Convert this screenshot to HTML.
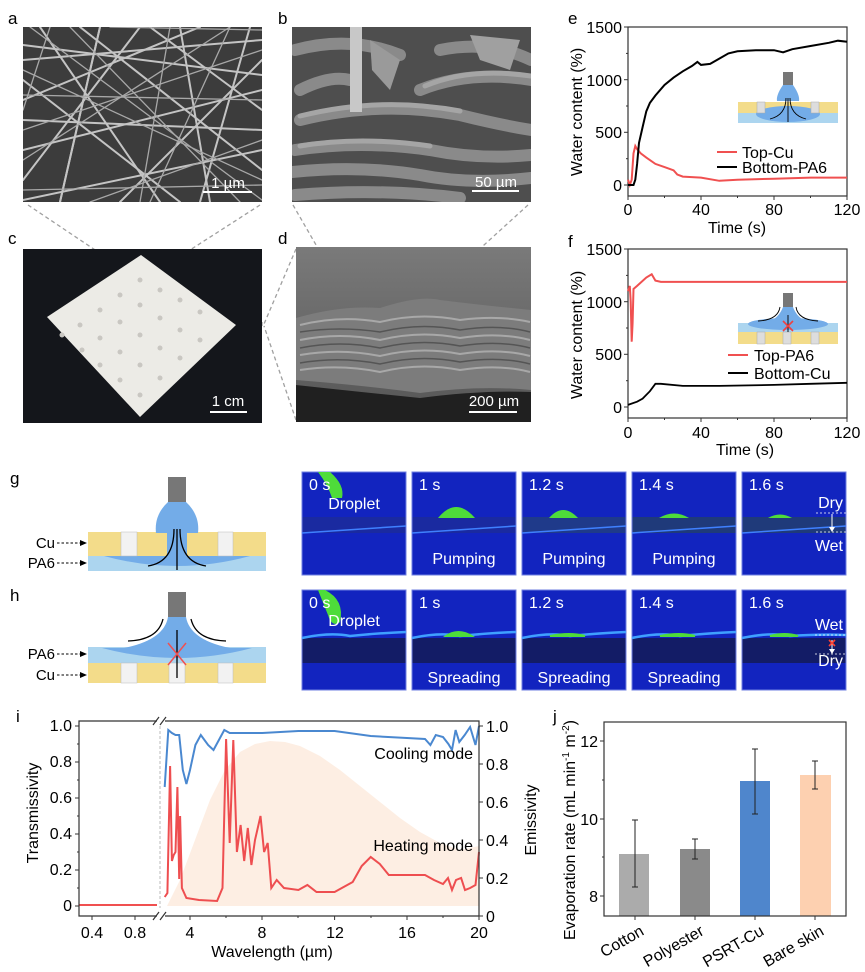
<!DOCTYPE html>
<html><head><meta charset="utf-8"><style>
html,body{margin:0;padding:0;background:#fff;}
svg{display:block;font-family:"Liberation Sans",Arial,sans-serif;}
</style></head><body>
<svg width="865" height="972" viewBox="0 0 865 972" xmlns="http://www.w3.org/2000/svg">
<defs>
<clipPath id="ca"><rect x="23" y="27" width="239" height="175"/></clipPath>
<clipPath id="cb"><rect x="292" y="27" width="239" height="175"/></clipPath>
<clipPath id="cd"><rect x="296" y="247" width="235" height="175"/></clipPath>
<linearGradient id="gd" x1="0" y1="0" x2="0" y2="1"><stop offset="0" stop-color="#7a7a7a"/><stop offset="1" stop-color="#555"/></linearGradient>
</defs>

<g font-size="17" fill="#000">
<text x="8" y="24">a</text><text x="278" y="24">b</text>
<text x="8" y="244">c</text><text x="278" y="244">d</text>
<text x="568" y="24">e</text><text x="568" y="247">f</text>
<text x="10" y="484">g</text><text x="10" y="601">h</text>
<text x="16" y="722">i</text><text x="553" y="722">j</text>
</g>

<rect x="23" y="27" width="239" height="175" fill="#3c3c3c"/>
<g clip-path="url(#ca)" stroke="#c4c4c4" fill="none" stroke-linecap="round">
<g stroke-width="2">
<path d="M23 60 L262 40"/><path d="M23 100 L200 27"/><path d="M40 27 L160 202"/><path d="M23 150 L262 90"/>
<path d="M80 27 L262 170"/><path d="M23 180 L140 27"/><path d="M120 202 L262 60"/><path d="M180 27 L210 202"/>
<path d="M23 120 L262 130"/><path d="M60 202 L100 27"/><path d="M23 80 L180 202"/><path d="M150 27 L262 110"/>
<path d="M23 45 L262 75"/><path d="M200 202 L250 27"/><path d="M23 200 L262 150"/><path d="M100 27 L60 202"/>
</g>
<g stroke-width="1.3" stroke="#a8a8a8">
<path d="M23 70 L262 180"/><path d="M30 27 L262 200"/><path d="M23 160 L230 27"/><path d="M140 202 L170 27"/>
<path d="M23 130 L262 50"/><path d="M70 27 L240 202"/><path d="M23 95 L262 100"/><path d="M90 202 L262 140"/>
<path d="M230 27 L150 202"/><path d="M23 190 L262 185"/><path d="M50 27 L23 110"/><path d="M110 27 L262 30"/>
</g>
</g>
<line x1="203" y1="192" x2="252" y2="192" stroke="#fff" stroke-width="2"/>
<text x="228" y="188" font-size="15" fill="#fff" text-anchor="middle">1 µm</text>

<rect x="292" y="27" width="239" height="175" fill="#4e4e4e"/>
<g clip-path="url(#cb)" fill="none" stroke-linecap="round">
<g stroke="#8a8a8a" stroke-width="12">
<path d="M295 50 Q350 35 400 55"/><path d="M420 90 Q470 70 531 80"/><path d="M300 120 Q380 100 460 115 Q500 125 531 130"/>
<path d="M295 150 Q360 140 430 150 Q480 160 531 155"/><path d="M292 172 Q360 165 420 175 Q470 185 531 178"/>
<path d="M295 195 Q380 188 460 198"/><path d="M440 50 Q490 40 531 60"/><path d="M300 90 Q330 75 350 80"/>
</g>
<g stroke="#a5a5a5" stroke-width="5">
<path d="M300 116 Q380 96 460 111"/><path d="M300 146 Q360 136 430 146"/><path d="M425 86 Q470 67 531 76"/>
</g>
<rect x="350" y="27" width="12" height="85" fill="#c8c8c8" stroke="none"/>
<path d="M370 40 L400 60 L390 90 L372 70 Z" fill="#9a9a9a" stroke="none"/>
<path d="M470 35 L520 40 L510 70 L480 60 Z" fill="#a0a0a0" stroke="none"/>
</g>
<line x1="472" y1="191" x2="519" y2="191" stroke="#fff" stroke-width="2"/>
<text x="496" y="187" font-size="15" fill="#fff" text-anchor="middle">50 µm</text>

<g stroke="#a0a0a0" stroke-width="1.3" stroke-dasharray="4,3" fill="none">
<path d="M28 205 L122 268"/><path d="M260 205 L162 268"/>
<path d="M293 205 L342 290"/><path d="M528 205 L440 285"/>
<path d="M296 249 L264 324"/><path d="M296 420 L264 326"/>
<rect x="215" y="320" width="47" height="7"/>
<path d="M345 366 L398 366"/>
</g>

<rect x="23" y="249" width="239" height="174" fill="#14161b"/>
<path d="M141 255 L236 325 L140 417 L47 317 Z" fill="#ecebe6"/>
<g fill="#c9c7c2">
<circle cx="140" cy="280" r="2.5"/><circle cx="160" cy="290" r="2.5"/><circle cx="120" cy="295" r="2.5"/><circle cx="180" cy="300" r="2.5"/>
<circle cx="140" cy="305" r="2.5"/><circle cx="100" cy="310" r="2.5"/><circle cx="200" cy="312" r="2.5"/><circle cx="160" cy="318" r="2.5"/>
<circle cx="120" cy="322" r="2.5"/><circle cx="80" cy="325" r="2.5"/><circle cx="180" cy="330" r="2.5"/><circle cx="140" cy="335" r="2.5"/>
<circle cx="100" cy="338" r="2.5"/><circle cx="62" cy="335" r="2.5"/><circle cx="200" cy="340" r="2.5"/><circle cx="160" cy="348" r="2.5"/>
<circle cx="120" cy="352" r="2.5"/><circle cx="82" cy="350" r="2.5"/><circle cx="180" cy="358" r="2.5"/><circle cx="140" cy="365" r="2.5"/>
<circle cx="100" cy="365" r="2.5"/><circle cx="160" cy="378" r="2.5"/><circle cx="120" cy="380" r="2.5"/><circle cx="140" cy="395" r="2.5"/>
</g>
<line x1="210" y1="412" x2="247" y2="412" stroke="#fff" stroke-width="2"/>
<text x="228" y="406" font-size="15" fill="#fff" text-anchor="middle">1 cm</text>

<rect x="296" y="247" width="235" height="175" fill="url(#gd)"/>
<g clip-path="url(#cd)">
<path d="M296 318 Q340 305 380 308 Q420 295 440 300 Q480 305 531 310 L531 390 Q480 385 420 393 Q360 385 296 380 Z" fill="#7c7c7c"/>
<g stroke="#a8a8a8" stroke-width="2" fill="none">
<path d="M300 325 Q340 315 380 322 Q420 312 460 320 Q500 315 530 322"/>
<path d="M300 340 Q340 332 380 340 Q420 330 460 338 Q500 332 530 340"/>
<path d="M300 355 Q340 348 380 356 Q420 346 460 354 Q500 348 530 356"/>
<path d="M300 370 Q340 364 380 372 Q420 362 460 370 Q500 364 530 372"/>
</g>
<g stroke="#555" stroke-width="1.5" fill="none">
<path d="M300 332 Q340 326 380 332 Q420 322 460 330 Q500 324 530 332"/>
<path d="M300 348 Q340 340 380 348 Q420 338 460 346 Q500 340 530 348"/>
<path d="M300 363 Q340 356 380 364 Q420 354 460 362 Q500 356 530 364"/>
</g>
<path d="M296 385 Q360 392 420 398 Q480 390 531 392 L531 422 L296 422 Z" fill="#202020"/>
</g>
<line x1="469" y1="412" x2="517" y2="412" stroke="#fff" stroke-width="2"/>
<text x="494" y="406" font-size="15" fill="#fff" text-anchor="middle">200 µm</text>

<g font-size="16" fill="#000">
<rect x="628" y="27" width="219" height="169" fill="none" stroke="#333" stroke-width="1.2"/>
<g stroke="#333" stroke-width="1">
<line x1="624" y1="185" x2="628" y2="185"/><line x1="624" y1="132.3" x2="628" y2="132.3"/><line x1="624" y1="79.7" x2="628" y2="79.7"/><line x1="624" y1="27" x2="628" y2="27"/>
<line x1="626" y1="158.7" x2="628" y2="158.7"/><line x1="626" y1="106" x2="628" y2="106"/><line x1="626" y1="53.4" x2="628" y2="53.4"/>
<line x1="628" y1="196" x2="628" y2="200"/><line x1="701" y1="196" x2="701" y2="200"/><line x1="774" y1="196" x2="774" y2="200"/><line x1="847" y1="196" x2="847" y2="200"/>
<line x1="664.5" y1="196" x2="664.5" y2="198"/><line x1="737.5" y1="196" x2="737.5" y2="198"/><line x1="810.5" y1="196" x2="810.5" y2="198"/>
</g>
<g text-anchor="end"><text x="622" y="191">0</text><text x="622" y="138">500</text><text x="622" y="86">1000</text><text x="622" y="33">1500</text></g>
<g text-anchor="middle"><text x="628" y="215">0</text><text x="701" y="215">40</text><text x="774" y="215">80</text><text x="847" y="215">120</text>
<text x="737" y="233">Time (s)</text></g>
<text transform="translate(582,112) rotate(-90)" text-anchor="middle">Water content (%)</text>
<polyline fill="none" stroke="#f05050" stroke-width="2" points="628,179.7 629.8,185 631.7,179.7 633.5,153.4 635.3,146 637.1,149.2 640.8,153.4 646.3,157.6 655.4,163.9 664.5,167.1 673.6,170.3 677.3,174.5 682.8,176.6 701,177.6 719.3,180.8 737.5,179.7 774,178.7 810.5,177.6 847,177.6"/>
<polyline fill="none" stroke="#000" stroke-width="2" points="628,185 633.5,185 635.3,179.7 637.1,164 639,142.9 642.6,127.1 646.3,111.3 649.9,102.9 655.4,95.5 664.5,85 673.6,77.6 682.8,71.3 691.9,66 697.4,61.9 701,64.9 710.1,63.9 719.3,58.6 728.4,53.4 737.5,51.3 755.8,50.2 774,50.2 783.1,52.3 792.3,49.2 810.5,46 828.8,42.8 837.9,40.7 847,41.8"/>
<rect x="738" y="102" width="100" height="11" fill="#f3dc8a"/>
<rect x="738" y="113" width="100" height="10" fill="#acd5ef"/>
<ellipse cx="788" cy="114" rx="32" ry="8" fill="#73ace8"/>
<rect x="757" y="102" width="8" height="11" fill="#ddd" stroke="#aaa" stroke-width="0.5"/>
<rect x="811" y="102" width="8" height="11" fill="#ddd" stroke="#aaa" stroke-width="0.5"/>
<rect x="783" y="72" width="10" height="13" fill="#777"/>
<path d="M783 85 L793 85 Q800 95 799 101 L777 101 Q776 95 783 85 Z" fill="#73ace8"/>
<g stroke="#000" stroke-width="0.9" fill="none"><path d="M786 98 Q786 115 770 119"/><path d="M790 98 Q790 115 806 119"/><path d="M788 98 L788 122"/></g>
<line x1="717" y1="152" x2="737" y2="152" stroke="#f05050" stroke-width="2"/>
<text x="742" y="158">Top-Cu</text>
<line x1="717" y1="167" x2="737" y2="167" stroke="#000" stroke-width="2"/>
<text x="742" y="173">Bottom-PA6</text>
</g>

<g font-size="16" fill="#000">
<rect x="628" y="249" width="219" height="169" fill="none" stroke="#333" stroke-width="1.2"/>
<g stroke="#333" stroke-width="1">
<line x1="624" y1="407" x2="628" y2="407"/><line x1="624" y1="354.3" x2="628" y2="354.3"/><line x1="624" y1="301.7" x2="628" y2="301.7"/><line x1="624" y1="249" x2="628" y2="249"/>
<line x1="626" y1="380.7" x2="628" y2="380.7"/><line x1="626" y1="328" x2="628" y2="328"/><line x1="626" y1="275.4" x2="628" y2="275.4"/>
<line x1="628" y1="418" x2="628" y2="422"/><line x1="701" y1="418" x2="701" y2="422"/><line x1="774" y1="418" x2="774" y2="422"/><line x1="847" y1="418" x2="847" y2="422"/>
<line x1="664.5" y1="418" x2="664.5" y2="420"/><line x1="737.5" y1="418" x2="737.5" y2="420"/><line x1="810.5" y1="418" x2="810.5" y2="420"/>
</g>
<g text-anchor="end"><text x="622" y="413">0</text><text x="622" y="360">500</text><text x="622" y="308">1000</text><text x="622" y="255">1500</text></g>
<g text-anchor="middle"><text x="628" y="438">0</text><text x="701" y="438">40</text><text x="774" y="438">80</text><text x="847" y="438">120</text>
<text x="745" y="455">Time (s)</text></g>
<text transform="translate(582,335) rotate(-90)" text-anchor="middle">Water content (%)</text>
<polyline fill="none" stroke="#f05050" stroke-width="2" points="628,291.2 629.8,285.9 630.7,301.7 631.7,341.7 632.6,322.8 633.5,289 637.1,285.9 646.3,277.5 651.7,274.3 655.4,280.6 660.9,281.9 701,281.9 847,281.9"/>
<polyline fill="none" stroke="#000" stroke-width="1.8" points="628,404.9 637.1,401.7 642.6,398.6 649.9,391.2 655.4,383.8 660.9,383.8 682.8,385.9 719.3,385.9 774,384.9 810.5,383.8 847,382.8"/>
<rect x="738" y="323" width="100" height="9" fill="#acd5ef"/>
<rect x="738" y="332" width="100" height="12" fill="#f3dc8a"/>
<ellipse cx="788" cy="324" rx="40" ry="6" fill="#73ace8"/>
<rect x="757" y="332" width="8" height="12" fill="#ddd" stroke="#aaa" stroke-width="0.5"/>
<rect x="783" y="332" width="8" height="12" fill="#ddd" stroke="#aaa" stroke-width="0.5"/>
<rect x="811" y="332" width="8" height="12" fill="#ddd" stroke="#aaa" stroke-width="0.5"/>
<rect x="783" y="293" width="10" height="14" fill="#777"/>
<path d="M783 307 L793 307 Q797 318 808 322 L768 322 Q779 318 783 307 Z" fill="#73ace8"/>
<g stroke="#000" stroke-width="0.9" fill="none"><path d="M780 307 Q778 320 758 321"/><path d="M796 307 Q798 320 818 321"/><line x1="788" y1="315" x2="788" y2="332"/></g>
<g stroke="#f04040" stroke-width="1.6"><line x1="783" y1="321" x2="793" y2="331"/><line x1="793" y1="321" x2="783" y2="331"/></g>
<line x1="728" y1="355" x2="748" y2="355" stroke="#f05050" stroke-width="2"/>
<text x="754" y="361">Top-PA6</text>
<line x1="728" y1="373" x2="748" y2="373" stroke="#000" stroke-width="2"/>
<text x="754" y="379">Bottom-Cu</text>
</g>

<g font-size="15" fill="#000">
<rect x="88" y="532" width="178" height="24" fill="#f3dc8a"/>
<rect x="88" y="556" width="178" height="15" fill="#acd5ef"/>
<path d="M104 556 Q177 576 250 556 Z" fill="#73ace8"/>
<rect x="121" y="532" width="16" height="24" fill="#f2f2f2" stroke="#bbb" stroke-width="0.5"/>
<rect x="218" y="532" width="15" height="24" fill="#f2f2f2" stroke="#bbb" stroke-width="0.5"/>
<rect x="167" y="532" width="20" height="24" fill="#73ace8"/>
<rect x="168" y="477" width="18" height="25" fill="#777"/>
<path d="M168 502 L186 502 Q200 515 198 533 L156 533 Q154 515 168 502 Z" fill="#73ace8"/>
<g stroke="#000" stroke-width="1.3" fill="none">
<path d="M174 529 Q174 562 148 566"/><path d="M180 529 Q180 562 206 566"/><line x1="177" y1="529" x2="177" y2="570"/>
</g>
<text x="55" y="548" text-anchor="end">Cu</text><text x="55" y="568" text-anchor="end">PA6</text>
<g stroke="#000" stroke-width="1" stroke-dasharray="2.5,2"><line x1="57" y1="543" x2="81" y2="543"/><line x1="57" y1="563" x2="81" y2="563"/></g>
<path d="M80 540 L87 543 L80 546 Z M80 560 L87 563 L80 566 Z"/>
</g>

<g font-size="15" fill="#000">
<rect x="88" y="647" width="178" height="16" fill="#acd5ef"/>
<rect x="88" y="663" width="178" height="20" fill="#f3dc8a"/>
<path d="M102 648 Q177 668 252 648 Z" fill="#73ace8"/>
<rect x="121" y="663" width="16" height="20" fill="#f2f2f2" stroke="#bbb" stroke-width="0.5"/>
<rect x="169" y="663" width="16" height="20" fill="#f2f2f2" stroke="#bbb" stroke-width="0.5"/>
<rect x="218" y="663" width="15" height="20" fill="#f2f2f2" stroke="#bbb" stroke-width="0.5"/>
<rect x="168" y="592" width="18" height="25" fill="#777"/>
<path d="M168 617 L186 617 Q190 640 230 648 L124 648 Q164 640 168 617 Z" fill="#73ace8"/>
<g stroke="#000" stroke-width="1.3" fill="none">
<path d="M163 619 Q158 640 128 641"/><path d="M191 619 Q196 640 226 641"/><line x1="177" y1="630" x2="177" y2="678"/>
</g>
<g stroke="#f05050" stroke-width="1.5"><line x1="168" y1="643" x2="186" y2="665"/><line x1="186" y1="643" x2="168" y2="665"/></g>
<text x="55" y="659" text-anchor="end">PA6</text><text x="55" y="680" text-anchor="end">Cu</text>
<g stroke="#000" stroke-width="1" stroke-dasharray="2.5,2"><line x1="57" y1="654" x2="81" y2="654"/><line x1="57" y1="675" x2="81" y2="675"/></g>
<path d="M80 651 L87 654 L80 657 Z M80 672 L87 675 L80 678 Z"/>
</g>

<g font-size="16" fill="#fff">
<g>
<rect x="302" y="472" width="104" height="103" fill="#1224bf" stroke="#6f7fe0" stroke-width="1"/>
<rect x="302.5" y="517" width="103" height="16" fill="#1a2aa0"/>
<path d="M302 533 Q350 530 406 526" stroke="#3f80ff" stroke-width="1.5" fill="none"/>
<path d="M330 472 Q345 485 342 498 L332 498 Q328 485 318 472 Z" fill="#4edc3a"/>
<text x="309" y="490">0 s</text><text x="354" y="509" text-anchor="middle">Droplet</text>
</g>
<g>
<rect x="412" y="472" width="104" height="103" fill="#1224bf" stroke="#6f7fe0" stroke-width="1"/>
<rect x="412.5" y="517" width="103" height="16" fill="#1a2aa0"/>
<path d="M412 533 Q460 530 516 526" stroke="#3f80ff" stroke-width="1.5" fill="none"/>
<path d="M438 518 Q456 496 475 518 Z" fill="#4edc3a"/>
<text x="419" y="490">1 s</text><text x="464" y="564" text-anchor="middle">Pumping</text>
</g>
<g>
<rect x="522" y="472" width="104" height="103" fill="#1224bf" stroke="#6f7fe0" stroke-width="1"/>
<rect x="522.5" y="517" width="103" height="16" fill="#1f3a8a"/>
<path d="M522 533 Q570 530 626 526" stroke="#3f80ff" stroke-width="1.5" fill="none"/>
<path d="M549 518 Q563 502 578 518 Z" fill="#4edc3a"/>
<text x="529" y="490">1.2 s</text><text x="574" y="564" text-anchor="middle">Pumping</text>
</g>
<g>
<rect x="632" y="472" width="104" height="103" fill="#1224bf" stroke="#6f7fe0" stroke-width="1"/>
<rect x="632.5" y="517" width="103" height="16" fill="#1f3a7a"/>
<path d="M632 533 Q680 530 736 526" stroke="#3f80ff" stroke-width="1.5" fill="none"/>
<path d="M659 518 Q674 509 689 518 Z" fill="#4edc3a"/>
<text x="639" y="490">1.4 s</text><text x="684" y="564" text-anchor="middle">Pumping</text>
</g>
<g>
<rect x="742" y="472" width="104" height="103" fill="#1224bf" stroke="#6f7fe0" stroke-width="1"/>
<rect x="742.5" y="517" width="103" height="16" fill="#1f3a7a"/>
<path d="M742 533 Q790 530 846 526" stroke="#3f80ff" stroke-width="1.5" fill="none"/>
<path d="M768 518 Q780 511 792 518 Z" fill="#4edc3a"/>
<text x="749" y="490">1.6 s</text><text x="843" y="508" text-anchor="end">Dry</text><text x="843" y="551" text-anchor="end">Wet</text>
<g stroke="#fff" stroke-width="0.8" stroke-dasharray="2,2"><line x1="816" y1="513" x2="846" y2="513"/><line x1="816" y1="532" x2="846" y2="532"/></g>
<line x1="832" y1="514" x2="832" y2="528" stroke="#fff" stroke-width="1"/><path d="M829 527 L832 532 L835 527 Z"/>
</g>
</g>

<g font-size="16" fill="#fff">
<g>
<rect x="302" y="590" width="104" height="100" fill="#1224bf" stroke="#6f7fe0" stroke-width="1"/>
<rect x="302.5" y="638" width="103" height="25" fill="#131c66"/>
<path d="M302 638 Q330 632 350 636 Q380 633 406 632" stroke="#3fa0ff" stroke-width="2.5" fill="none"/>
<path d="M325 590 Q345 600 340 622 Q332 628 328 615 Q322 600 318 590 Z" fill="#4edc3a"/>
<text x="309" y="608">0 s</text><text x="354" y="626" text-anchor="middle">Droplet</text>
</g>
<g>
<rect x="412" y="590" width="104" height="100" fill="#1224bf" stroke="#6f7fe0" stroke-width="1"/>
<rect x="412.5" y="638" width="103" height="25" fill="#131c66"/>
<path d="M412 638 Q440 632 460 636 Q490 633 516 632" stroke="#3fa0ff" stroke-width="2.5" fill="none"/>
<path d="M443 637 Q458 625 475 637 Z" fill="#4edc3a"/>
<text x="419" y="608">1 s</text><text x="464" y="683" text-anchor="middle">Spreading</text>
</g>
<g>
<rect x="522" y="590" width="104" height="100" fill="#1224bf" stroke="#6f7fe0" stroke-width="1"/>
<rect x="522.5" y="638" width="103" height="25" fill="#131c66"/>
<path d="M522 638 Q550 632 570 636 Q600 633 626 632" stroke="#3fa0ff" stroke-width="2.5" fill="none"/>
<path d="M550 636 Q570 632 585 636 Z" fill="#4edc3a" stroke="#4edc3a" stroke-width="2"/>
<text x="529" y="608">1.2 s</text><text x="574" y="683" text-anchor="middle">Spreading</text>
</g>
<g>
<rect x="632" y="590" width="104" height="100" fill="#1224bf" stroke="#6f7fe0" stroke-width="1"/>
<rect x="632.5" y="638" width="103" height="25" fill="#131c66"/>
<path d="M632 638 Q660 632 680 636 Q710 633 736 632" stroke="#3fa0ff" stroke-width="2.5" fill="none"/>
<path d="M660 636 Q680 632 695 636 Z" fill="#4edc3a" stroke="#4edc3a" stroke-width="2"/>
<text x="639" y="608">1.4 s</text><text x="684" y="683" text-anchor="middle">Spreading</text>
</g>
<g>
<rect x="742" y="590" width="104" height="100" fill="#1224bf" stroke="#6f7fe0" stroke-width="1"/>
<rect x="742.5" y="638" width="103" height="25" fill="#131c66"/>
<path d="M742 638 Q770 632 790 636 Q820 634 846 635" stroke="#3fa0ff" stroke-width="2.5" fill="none"/>
<path d="M770 636 Q785 632 798 636 Z" fill="#4edc3a" stroke="#4edc3a" stroke-width="2"/>
<text x="749" y="608">1.6 s</text><text x="843" y="630" text-anchor="end">Wet</text><text x="843" y="666" text-anchor="end">Dry</text>
<g stroke="#fff" stroke-width="0.8" stroke-dasharray="2,2"><line x1="815" y1="635" x2="846" y2="635"/><line x1="815" y1="654" x2="846" y2="654"/></g>
<line x1="832" y1="640" x2="832" y2="650" stroke="#fff" stroke-width="1"/><path d="M829 649 L832 654 L835 649 Z"/>
<g stroke="#ff4030" stroke-width="1.6"><line x1="829" y1="640" x2="835" y2="646"/><line x1="835" y1="640" x2="829" y2="646"/></g>
</g>
</g>

<g font-size="16" fill="#000">
<path d="M167 906 L180 880 L195 840 L210 800 L225 770 L240 752 L255 744 L270 741 L285 742 L300 746 L320 756 L340 770 L360 786 L380 802 L400 818 L420 832 L440 843 L460 850 L479 846 L479 906 Z" fill="#fdeee3"/>
<line x1="160" y1="726" x2="160" y2="908" stroke="#bbb" stroke-width="1" stroke-dasharray="3,2"/>
<line x1="79" y1="905" x2="157" y2="905" stroke="#f05050" stroke-width="2"/>
<polyline fill="none" stroke="#4a88d0" stroke-width="2" points="164.7,787 168.3,730 171.9,733 175.5,735 179.2,735 182.8,770 186.4,784 190,770 195.4,745 200.8,735 208.1,745 213.5,750 218.9,740 224.3,730 229.7,733 262.3,733 298.4,731 334.6,731 370.7,736 406.9,738 425,739 430.4,745 435.8,735 443,737 448.4,744 452,750 455.6,730 459.3,742 464.7,735 470.1,727 475.5,745 479,726"/>
<polyline fill="none" stroke="#ee4e50" stroke-width="2" points="164.7,897 167.4,893 170.1,766 171.9,861 173.7,855 175.5,852 177.4,787 179.2,879 180.1,816 181.9,888 186.4,898 199,900 217.1,901 222.5,888 226.1,739 229.7,843 233.3,740 236.9,852 240.6,825 244.2,861 247.8,828 251.4,865 255,840 260.5,816 264.1,852 267.7,843 271.3,888 276.7,880 284,888 298.4,890 307.4,885 316.5,892 334.6,892 352.7,882 361.7,866 370.7,857 379.8,864 388.8,875 406.9,875 425,875 434,880 443,884 448,878 452,890 456,880 461.1,878 465,890 470.1,888 475.5,885 479,852"/>
<g stroke="#333" stroke-width="1.2" fill="none">
<path d="M157 721 L79 721 L79 916 L157 916"/>
<path d="M165 721 L479 721 L479 916 L165 916"/>
<path d="M153 725 L159 717 M160 725 L166 717 M153 920 L159 912 M160 920 L166 912"/>
</g>
<g stroke="#333" stroke-width="1">
<line x1="75" y1="906" x2="79" y2="906"/><line x1="75" y1="870" x2="79" y2="870"/><line x1="75" y1="834" x2="79" y2="834"/><line x1="75" y1="798" x2="79" y2="798"/><line x1="75" y1="762" x2="79" y2="762"/><line x1="75" y1="726" x2="79" y2="726"/>
<line x1="77" y1="888" x2="79" y2="888"/><line x1="77" y1="852" x2="79" y2="852"/><line x1="77" y1="816" x2="79" y2="816"/><line x1="77" y1="780" x2="79" y2="780"/><line x1="77" y1="744" x2="79" y2="744"/>
<line x1="479" y1="916" x2="483" y2="916"/><line x1="479" y1="878" x2="483" y2="878"/><line x1="479" y1="840" x2="483" y2="840"/><line x1="479" y1="802" x2="483" y2="802"/><line x1="479" y1="764" x2="483" y2="764"/><line x1="479" y1="726" x2="483" y2="726"/>
<line x1="92" y1="916" x2="92" y2="920"/><line x1="135" y1="916" x2="135" y2="920"/>
<line x1="190" y1="916" x2="190" y2="920"/><line x1="262" y1="916" x2="262" y2="920"/><line x1="334.6" y1="916" x2="334.6" y2="920"/><line x1="407" y1="916" x2="407" y2="920"/><line x1="479" y1="916" x2="479" y2="920"/>
<line x1="226" y1="916" x2="226" y2="918"/><line x1="298" y1="916" x2="298" y2="918"/><line x1="371" y1="916" x2="371" y2="918"/><line x1="443" y1="916" x2="443" y2="918"/>
</g>
<g text-anchor="end"><text x="72" y="911">0</text><text x="72" y="875">0.2</text><text x="72" y="839">0.4</text><text x="72" y="803">0.6</text><text x="72" y="767">0.8</text><text x="72" y="731">1.0</text></g>
<g><text x="486" y="922">0</text><text x="486" y="884">0.2</text><text x="486" y="846">0.4</text><text x="486" y="808">0.6</text><text x="486" y="770">0.8</text><text x="486" y="732">1.0</text></g>
<g text-anchor="middle"><text x="92" y="938">0.4</text><text x="135" y="938">0.8</text><text x="190" y="938">4</text><text x="262" y="938">8</text><text x="335" y="938">12</text><text x="407" y="938">16</text><text x="479" y="938">20</text>
<text x="272" y="957">Wavelength (µm)</text></g>
<text transform="translate(38,813) rotate(-90)" text-anchor="middle">Transmissivity</text>
<text transform="translate(536,820) rotate(-90)" text-anchor="middle">Emissivity</text>
<text x="473" y="759" text-anchor="end">Cooling mode</text>
<text x="473" y="851" text-anchor="end">Heating mode</text>
</g>

<g font-size="16" fill="#000">
<rect x="619" y="854" width="30" height="62" fill="#ababab"/>
<rect x="680" y="849" width="30" height="67" fill="#8a8a8a"/>
<rect x="740" y="781" width="30" height="135" fill="#4f86cc"/>
<rect x="800" y="775" width="31" height="141" fill="#fdd0b0"/>
<g stroke="#222" stroke-width="1">
<line x1="635" y1="820" x2="635" y2="887"/><line x1="632" y1="820" x2="638" y2="820"/><line x1="632" y1="887" x2="638" y2="887"/>
<line x1="695" y1="839" x2="695" y2="859"/><line x1="692" y1="839" x2="698" y2="839"/><line x1="692" y1="859" x2="698" y2="859"/>
<line x1="755" y1="749" x2="755" y2="814"/><line x1="752" y1="749" x2="758" y2="749"/><line x1="752" y1="814" x2="758" y2="814"/>
<line x1="815" y1="761" x2="815" y2="789"/><line x1="812" y1="761" x2="818" y2="761"/><line x1="812" y1="789" x2="818" y2="789"/>
</g>
<rect x="604" y="722" width="242" height="194" fill="none" stroke="#333" stroke-width="1.2"/>
<g stroke="#333" stroke-width="1">
<line x1="600" y1="896" x2="604" y2="896"/><line x1="600" y1="819" x2="604" y2="819"/><line x1="600" y1="741" x2="604" y2="741"/>
<line x1="602" y1="857" x2="604" y2="857"/><line x1="602" y1="780" x2="604" y2="780"/>
<line x1="635" y1="916" x2="635" y2="920"/><line x1="695" y1="916" x2="695" y2="920"/><line x1="755" y1="916" x2="755" y2="920"/><line x1="815" y1="916" x2="815" y2="920"/>
</g>
<g text-anchor="end"><text x="598" y="902">8</text><text x="598" y="825">10</text><text x="598" y="747">12</text></g>
<g text-anchor="end">
<text transform="translate(645,934) rotate(-30)">Cotton</text>
<text transform="translate(705,934) rotate(-30)">Polyester</text>
<text transform="translate(765,934) rotate(-30)">PSRT-Cu</text>
<text transform="translate(825,934) rotate(-30)">Bare skin</text>
</g>
<text transform="translate(575,830) rotate(-90)" text-anchor="middle">Evaporation rate (mL min<tspan font-size="10" dy="-6">-1</tspan><tspan dy="6"> m</tspan><tspan font-size="10" dy="-6">-2</tspan><tspan dy="6">)</tspan></text>
</g>
</svg>
</body></html>
